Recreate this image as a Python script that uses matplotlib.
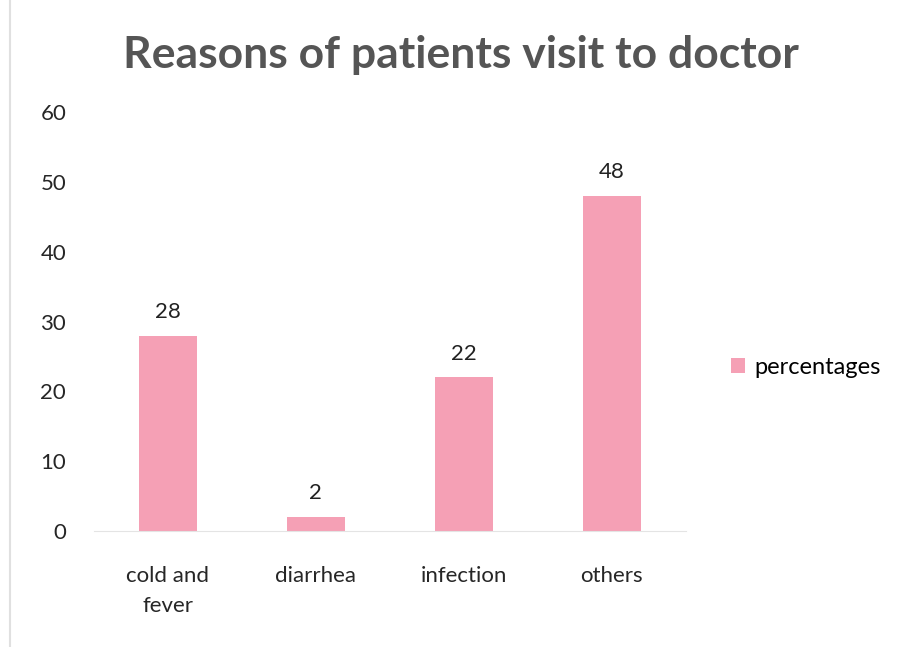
import matplotlib.pyplot as plt
from matplotlib.lines import Line2D

# data
categories = ['cold and\nfever', 'diarrhea', 'infection', 'others']
percentages = [28, 2, 22, 48]
yticks = [0, 10, 20, 30, 40, 50, 60]

pink = '#F5A0B5'
plt.rcParams['font.family'] = ['Lato', 'DejaVu Sans']

fig = plt.figure(figsize=(9.12, 6.47), dpi=100)
ax = fig.add_axes([0.103, 0.179, 0.649, 0.648])

x = range(len(categories))
bars = ax.bar(x, percentages, width=0.39, color=pink, label='percentages')

# value labels above bars
for b, v in zip(bars, percentages):
    ax.annotate(str(v), (b.get_x() + b.get_width() / 2, v),
                xytext=(0, 10), textcoords='offset points',
                ha='center', va='bottom', fontsize=16, color='#222222')

ax.set_xlim(-0.5, 3.5)
ax.set_ylim(0, 60)
ax.set_xticks(list(x))
ax.set_xticklabels(categories, fontsize=16, color='#262626', linespacing=1.6)
ax.set_yticks(yticks)
ax.set_yticklabels([str(t) for t in yticks], fontsize=16, color='#262626')
ax.tick_params(axis='both', length=0)
ax.tick_params(axis='x', pad=25)
ax.tick_params(axis='y', pad=20)

for s in ['top', 'right', 'left']:
    ax.spines[s].set_visible(False)
ax.spines['bottom'].set_color('#E4E4E4')

fig.text(0.505, 0.915, 'Reasons of patients visit to doctor', ha='center', va='center',
         fontsize=32, fontweight='bold', color='#555555')

ax.legend(loc='center left', bbox_to_anchor=(1.04, 0.39), frameon=False, fontsize=17,
          handlelength=0.6, handleheight=0.6, handletextpad=0.4)

# faint border on the left of the chart area
fig.add_artist(Line2D([0.011, 0.011], [0.0, 1.0], transform=fig.transFigure,
                      color='#E0E0E0', lw=1.5))

fig.savefig('out.png', dpi=100, facecolor='white')
